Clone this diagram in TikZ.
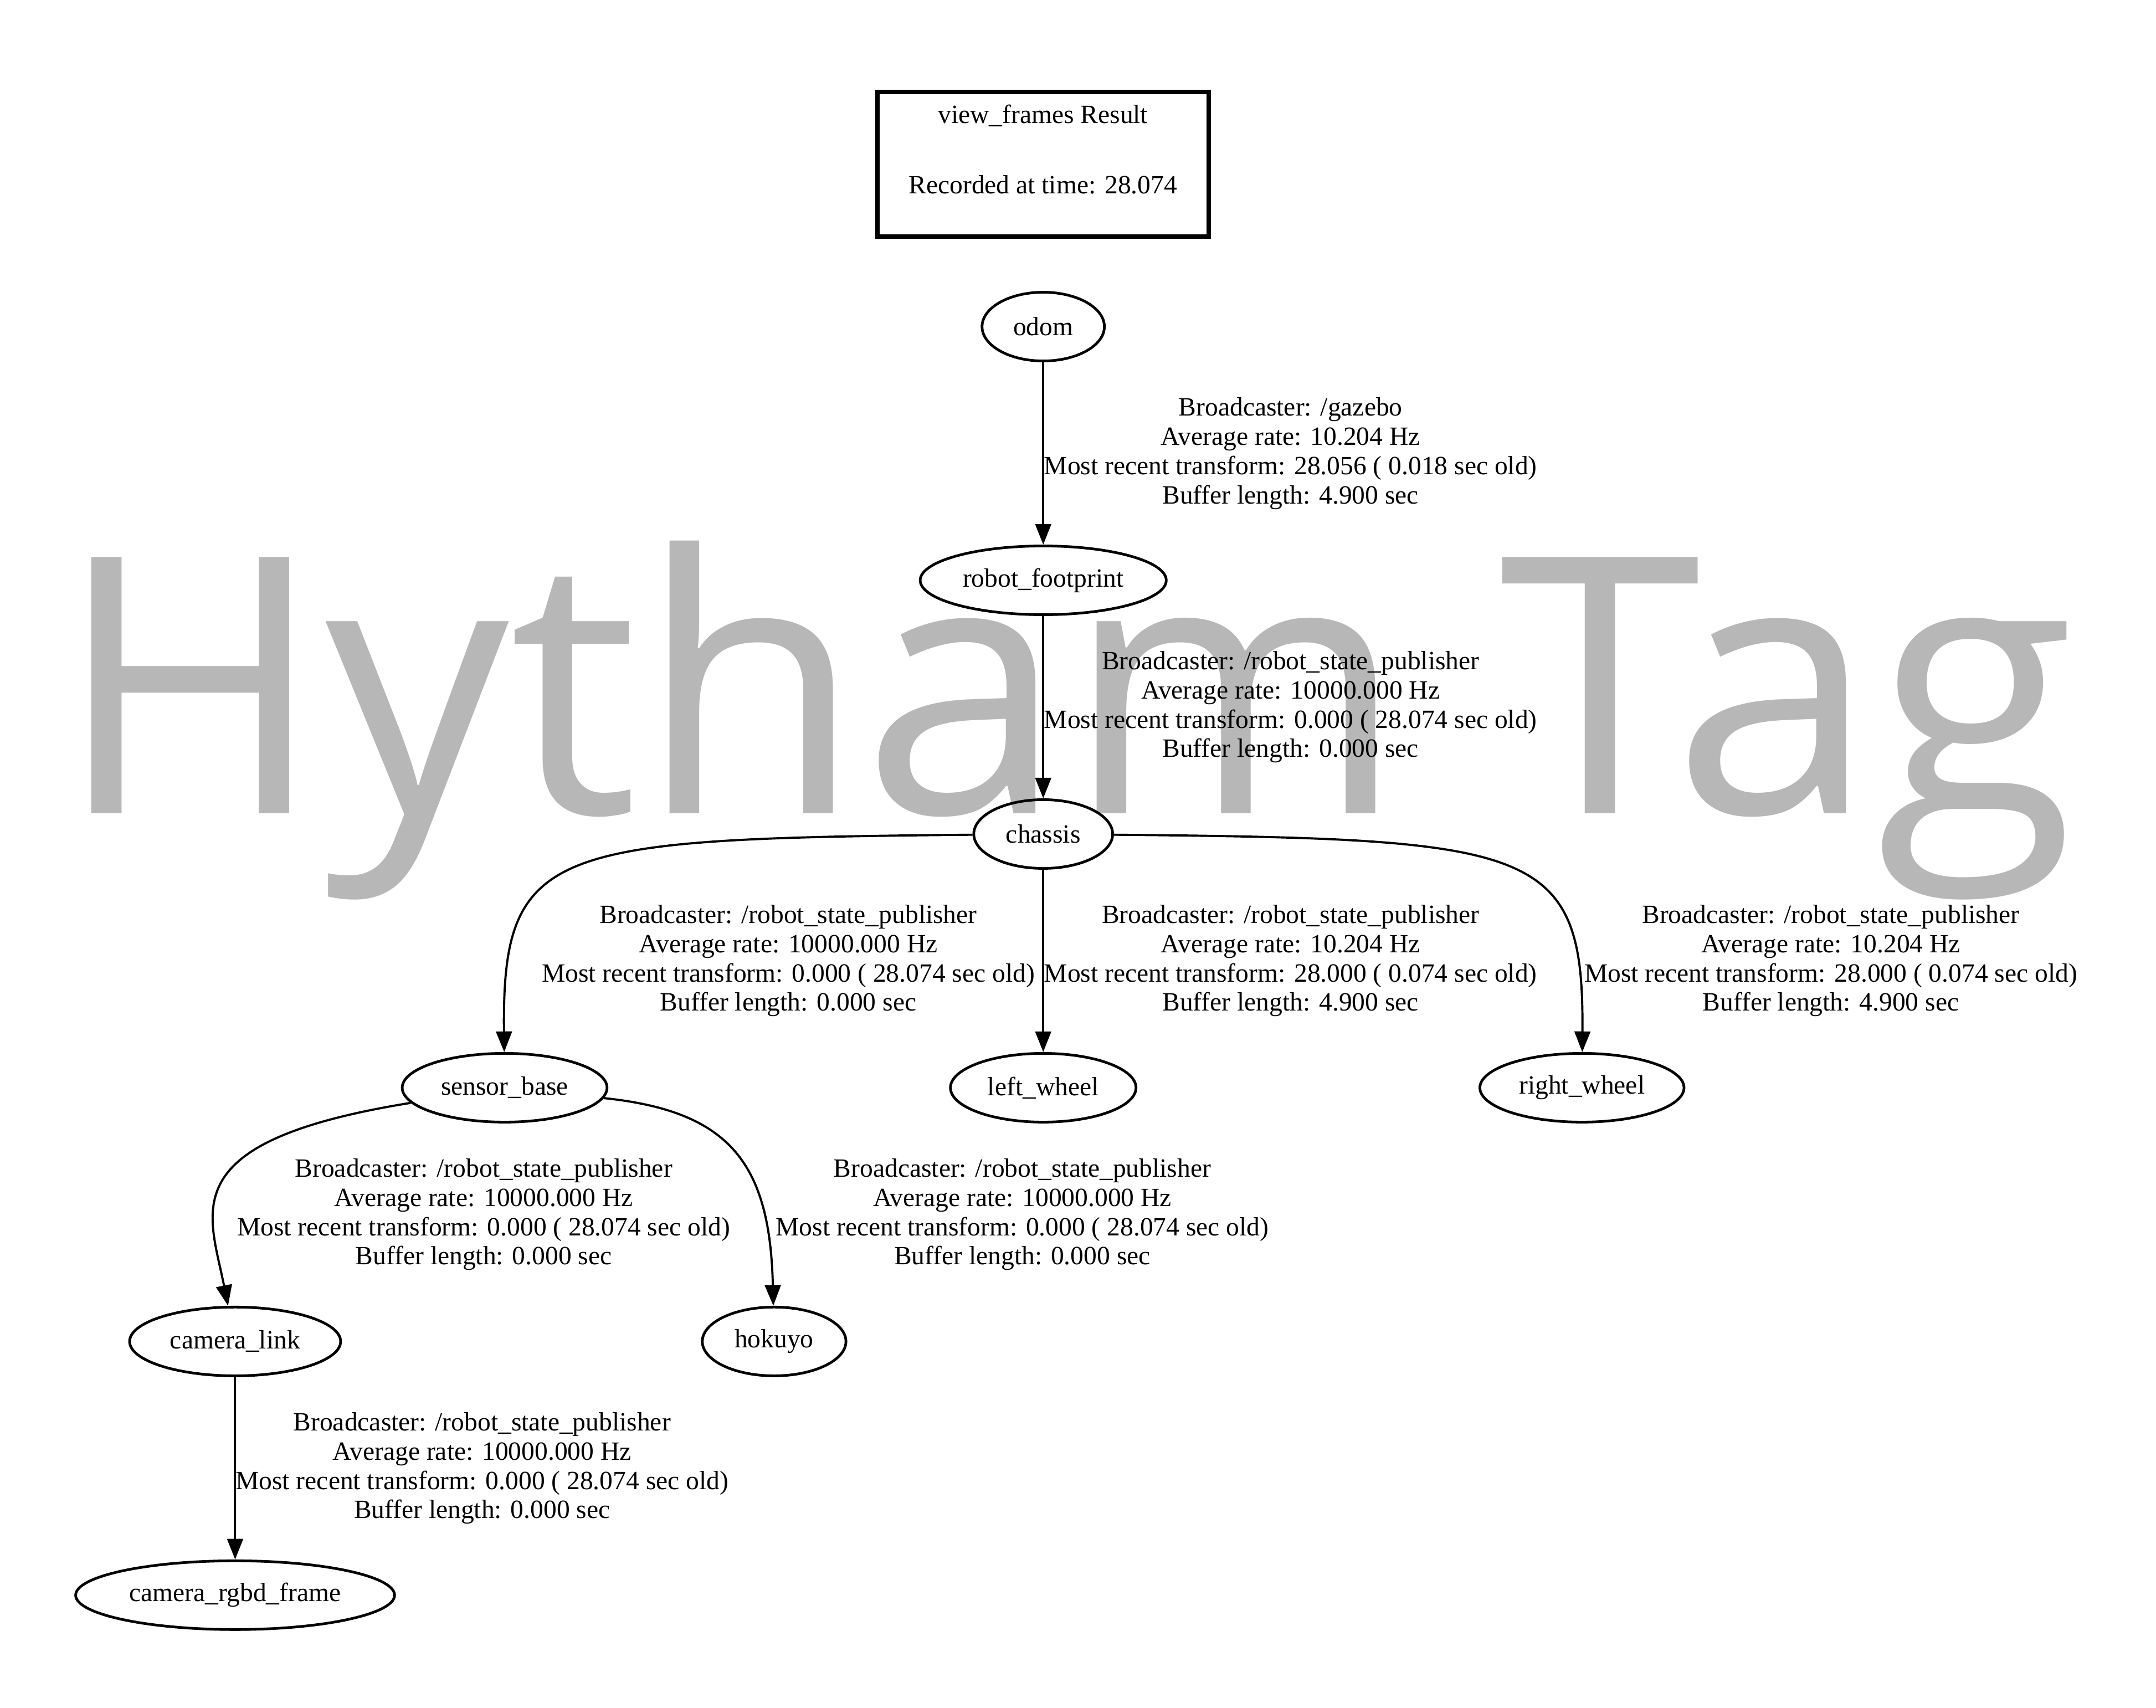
\documentclass[tikz,border=0pt]{standalone}
\usepackage{fontspec}
\setmainfont{Liberation Serif}
\newfontfamily\markfont{Open Sans}
\usetikzlibrary{arrows.meta, shapes.geometric}
\definecolor{markgray}{RGB}{183,183,183}

\begin{document}
\begin{tikzpicture}[x=0.02cm, y=-0.02cm,
    frame/.style={ellipse, draw, line width=1.1pt, minimum height=1.0cm, inner sep=0pt, font=\fontsize{10.9}{12.1}\selectfont},
    tf/.style={-{Triangle[length=0.3cm, width=0.23cm]}, line width=0.9pt},
    info/.style={align=center, inner sep=0pt, font=\fontsize{10.9}{12.1}\selectfont}]
    \useasboundingbox (0,0) rectangle (1568,1242);
    \def\row{184.5}     % vertical distance between frame rows
    \def\top{237.5}     % row of odom
    % Watermark behind the tree
    \node[anchor=base west, inner sep=0pt, xscale=1.017, text=markgray, font=\markfont\fontsize{148.6}{150}\selectfont] (mark) at (40.3,591.5) {Hytham Tag};
    % Header box
    \node[draw, line width=1.8pt, minimum width=4.82cm, minimum height=2.1cm, align=center, font=\fontsize{10.9}{12.1}\selectfont] (header) at (758.5,119.5) {view\_frames Result\\[17pt]Recorded at time: 28.074\\[-3pt]\strut};
    % Frames
    \node[frame, minimum width=1.78cm] (odom) at (758.7,\top) {odom};
    \node[frame, minimum width=3.58cm] (footprint) at (758.7,\top+\row) {robot\_footprint};
    \node[frame, minimum width=2.02cm] (chassis) at (758.7,\top+2*\row) {chassis};
    \node[frame, minimum width=2.98cm] (sensorbase) at (367,\top+3*\row) {sensor\_base};
    \node[frame, minimum width=2.70cm] (leftwheel) at (758.7,\top+3*\row) {left\_wheel};
    \node[frame, minimum width=2.97cm] (rightwheel) at (1150.5,\top+3*\row) {right\_wheel};
    \node[frame, minimum width=3.07cm] (cameralink) at (171,\top+4*\row) {camera\_link};
    \node[frame, minimum width=2.09cm] (hokuyo) at (563,\top+4*\row) {hokuyo};
    \node[frame, minimum width=4.64cm] (camerargbd) at (171,\top+5*\row) {camera\_rgbd\_frame};
    % Transforms
    \draw[tf] (odom) -- (footprint);
    \draw[tf] (footprint) -- (chassis);
    \draw[tf] (chassis) .. controls (400,610) and (365,615) .. (sensorbase);
    \draw[tf] (chassis) -- (leftwheel);
    \draw[tf] (chassis) .. controls (1117,610) and (1152,615) .. (rightwheel);
    \draw[tf] (sensorbase) .. controls (125,830) and (152,880) .. (cameralink);
    \draw[tf] (sensorbase) .. controls (530,808) and (560,845) .. (hokuyo);
    \draw[tf] (cameralink) -- (camerargbd);
    % Transform details
    \def\rsp{Broadcaster: /robot\_state\_publisher}
    \node[info] (L1) at (938.6,\top+0.5*\row) {Broadcaster: /gazebo\\Average rate: 10.204 Hz\\Most recent transform: 28.056 ( 0.018 sec old)\\Buffer length: 4.900 sec};
    \node[info] (L2) at (938.6,\top+1.5*\row) {\rsp\\Average rate: 10000.000 Hz\\Most recent transform: 0.000 ( 28.074 sec old)\\Buffer length: 0.000 sec};
    \node[info] (L3) at (573.3,\top+2.5*\row) {\rsp\\Average rate: 10000.000 Hz\\Most recent transform: 0.000 ( 28.074 sec old)\\Buffer length: 0.000 sec};
    \node[info] (L4) at (938.6,\top+2.5*\row) {\rsp\\Average rate: 10.204 Hz\\Most recent transform: 28.000 ( 0.074 sec old)\\Buffer length: 4.900 sec};
    \node[info] (L5) at (1331.5,\top+2.5*\row) {\rsp\\Average rate: 10.204 Hz\\Most recent transform: 28.000 ( 0.074 sec old)\\Buffer length: 4.900 sec};
    \node[info] (L6) at (351.8,\top+3.5*\row) {\rsp\\Average rate: 10000.000 Hz\\Most recent transform: 0.000 ( 28.074 sec old)\\Buffer length: 0.000 sec};
    \node[info] (L7) at (743.5,\top+3.5*\row) {\rsp\\Average rate: 10000.000 Hz\\Most recent transform: 0.000 ( 28.074 sec old)\\Buffer length: 0.000 sec};
    \node[info] (L8) at (350.6,\top+4.5*\row) {\rsp\\Average rate: 10000.000 Hz\\Most recent transform: 0.000 ( 28.074 sec old)\\Buffer length: 0.000 sec};
\end{tikzpicture}
\end{document}
